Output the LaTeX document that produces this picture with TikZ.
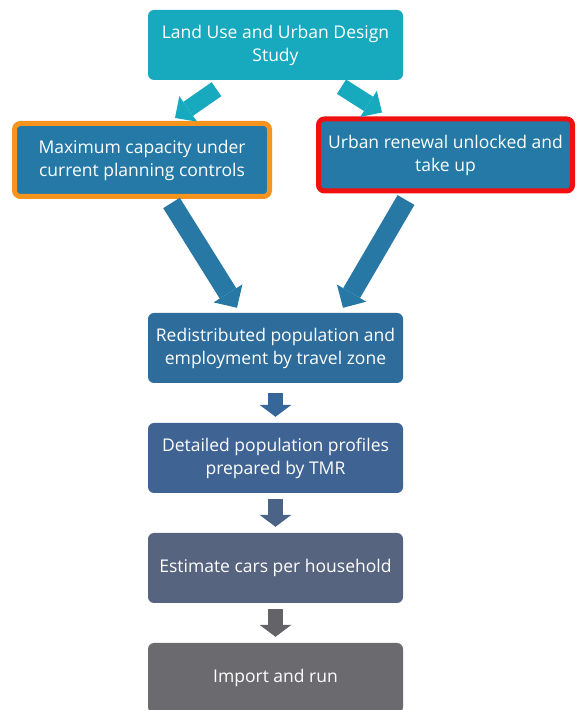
\documentclass[tikz,border=0pt]{standalone}
\usepackage{fontspec}
\setmainfont{Open Sans}
\usetikzlibrary{arrows.meta,calc}
\definecolor{cteal}{HTML}{17A9BE}
\definecolor{cblue}{HTML}{2479A6}
\definecolor{cbarrow}{HTML}{2878A5}
\definecolor{corange}{HTML}{F7941D}
\definecolor{cred}{HTML}{F01010}
\definecolor{cb3}{HTML}{2D6C9B}
\definecolor{cb4}{HTML}{3F6392}
\definecolor{cb5}{HTML}{57647F}
\definecolor{cb6}{HTML}{6B6B6F}
\definecolor{ca1}{HTML}{36679A}
\definecolor{ca2}{HTML}{4A6387}
\definecolor{ca3}{HTML}{646468}
\tikzset{
  box/.style={rounded corners=6pt, minimum width=255pt, minimum height=70pt,
    text=white, align=center, font=\fontsize{17.5}{23}\selectfont, inner sep=0pt},
  framedbox/.style={box, line width=5pt, minimum width=255pt, minimum height=73pt},
  tealarrow/.style={cteal, line width=17pt, -{Triangle[width=31pt,length=16pt,line width=0pt]}},
  bigarrow/.style={cbarrow, line width=19.5pt, -{Triangle[width=34pt,length=17pt,line width=0pt]}},
  smallarrow/.style={line width=15pt, -{Triangle[width=32pt,length=12pt,line width=0pt]}}
}
\begin{document}
\begin{tikzpicture}[x=1pt,y=1pt]
\useasboundingbox (0,0) rectangle (576,710);
\clip (0,0) rectangle (576,710);
\node[box, fill=cteal] (top) at (275.5,665) {Land Use and Urban Design\\Study};
\node[framedbox, fill=cblue, draw=corange] (left) at (142,550) {Maximum capacity under\\current planning controls};
\node[framedbox, fill=cblue, draw=cred, minimum width=254pt, minimum height=72pt] (right) at (445.5,555) {Urban renewal unlocked and\\take up};
\node[box, fill=cb3] (b3) at (275.5,362) {Redistributed population and\\employment by travel zone};
\node[box, fill=cb4] (b4) at (275.5,252) {Detailed population profiles\\prepared by TMR};
\node[box, fill=cb5] (b5) at (275.5,142) {Estimate cars per household};
\node[box, fill=cb6] (b6) at (275.5,32) {Import and run};
% teal arrows
\draw[tealarrow] ($(top.south)+(-59,-9)$) -- ($(left.north)+(33,3)$);
\draw[tealarrow] ($(top.south)+(66,-6.5)$) -- ($(right.north)+(-63.5,4)$);
% big arrows
\draw[bigarrow] ($(left.south)+(29.5,-4)$) -- ($(b3.north)+(-38.5,5)$);
\draw[bigarrow] ($(right.south)+(-39.5,-6.5)$) -- ($(b3.north)+(67.5,5)$);
% small arrows
\draw[smallarrow, ca1] ($(b3.south)+(0,-10)$) -- ($(b4.north)+(0,6)$);
\draw[smallarrow, ca2] ($(b4.south)+(0,-6)$) -- ($(b5.north)+(0,6)$);
\draw[smallarrow, ca3] ($(b5.south)+(0,-6)$) -- ($(b6.north)+(0,6)$);
\end{tikzpicture}
\end{document}
